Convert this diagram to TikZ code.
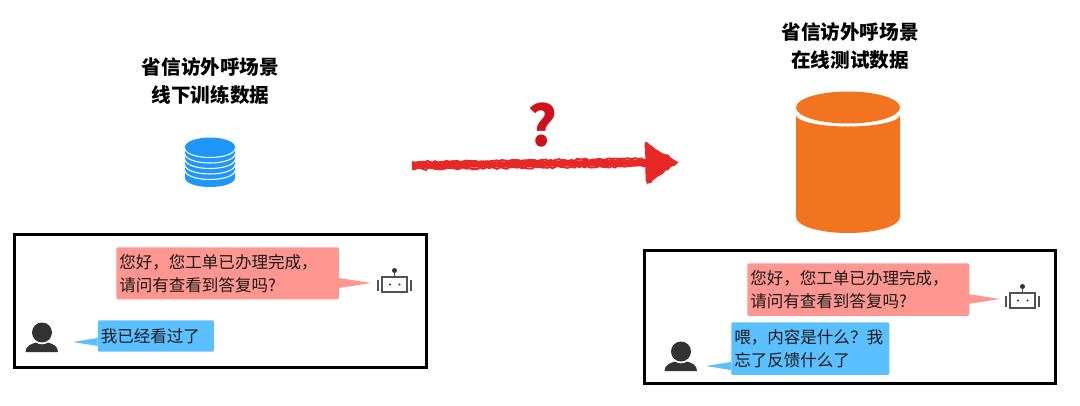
\documentclass[tikz,border=0pt]{standalone}
\usepackage{fontspec}
\setmainfont{Noto Sans CJK SC}
\usetikzlibrary{arrows.meta,decorations.pathmorphing}
\definecolor{boxred}{RGB}{255,150,144}
\definecolor{boxblue}{RGB}{90,192,255}
\definecolor{stackblue}{RGB}{30,150,250}
\definecolor{drumorange}{RGB}{242,116,32}
\definecolor{arrowred}{RGB}{232,40,38}
\definecolor{markred}{RGB}{205,18,30}
\definecolor{inkgray}{RGB}{51,51,51}
\tikzset{
  titletext/.style={inner sep=0pt,align=center,text=black,font=\fontsize{14.7}{21}\selectfont\bfseries},
  redbubble/.style={fill=boxred,rounded corners=1pt,anchor=north west,inner xsep=2.25pt,inner ysep=0pt,align=left,text=black!90,font=\fontsize{12.4}{17.25}\selectfont},
  bluebubble/.style={redbubble,fill=boxblue},
  chatframe/.style={draw=black,line width=2.25pt},
  robotline/.style={draw=inkgray!85,line width=0.9pt},
  chalk/.style={decorate,decoration={random steps,segment length=2pt,amplitude=0.8pt}},
}
\newcommand{\robotface}{
  \draw[robotline] (382,277) rectangle (407,292);
  \draw[robotline] (394.5,277) -- (394.5,271);
  \fill[inkgray] (394.5,270.5) circle (2.5);
  \fill[inkgray] (390,284.5) circle (1.2);
  \fill[inkgray] (399.5,284.5) circle (1.2);
  \draw[robotline] (378,280) -- (378,291);
  \draw[robotline] (411,280) -- (411,291);
}
\newcommand{\personbust}{
  \fill[inkgray] (42,332.5) circle (10);
  \fill[inkgray] (25.5,352) .. controls (25.5,346) and (31,344) .. (36,342.5)
    .. controls (39,345) and (45,345) .. (48,342.5)
    .. controls (53,344) and (58,346) .. (58,352) -- cycle;
}
\begin{document}
\begin{tikzpicture}[x=0.75pt,y=0.75pt,yscale=-1,xscale=1]
\useasboundingbox (0,0) rectangle (1080,405);

% Left side
\node (lefttitle) [titletext] at (210.5,81) {省信访外呼场景\\线下训练数据};
\fill[stackblue] (185,147) -- (185,178) arc (180:0:25 and 9) -- (235,147) -- cycle;
\foreach \y in {148.5,154,159.5,165,170.5} {
  \draw[white,line width=0.8pt] (185,\y) arc (180:0:25 and 9);
}
\fill[stackblue] (210,147) ellipse (25 and 9.5);

\draw[chatframe] (14,234) rectangle (426,367);
\node (leftrobotmsg) [redbubble,text width=162.5pt,minimum height=39pt] at (116,247) {您好，您工单已办理完成，\\请问有查看到答复吗?};
\fill[boxred] (339,278) -- (371,283) -- (339,288) -- cycle;
\robotface
\node (leftusermsg) [bluebubble,text width=82.5pt,minimum height=23.5pt] at (97.5,320) {我已经看过了};
\fill[boxblue] (97.5,338) -- (73,342) -- (97.5,346) -- cycle;
\personbust

% Arrow
\coordinate (arrowstart) at (412,165.5);
\coordinate (arrowend) at (676,162);
\draw[arrowred,line width=4.5pt,-{Triangle[length=23pt,width=27pt]}] (arrowstart) -- (arrowend);
\draw[arrowred,line width=1.5pt,chalk] (412,162) -- (648,159);
\draw[arrowred,line width=1.5pt,chalk] (412,169) -- (648,166);
\fill[arrowred,chalk] (645,142) -- (679,162) -- (647,185) -- cycle;
\node (askmark) [inner sep=0pt,text=markred,font=\fontsize{42}{42}\selectfont\bfseries] at (542,125) {?};

% Right side
\node (righttitle) [titletext] at (850,46) {省信访外呼场景\\在线测试数据};
\fill[drumorange] (796,115) -- (796,217) arc (180:0:52 and 16) -- (900,115) arc (0:180:52 and 11.5) -- cycle;
\fill[drumorange] (848,107.5) ellipse (52 and 16);

\draw[chatframe] (644,250) rectangle (1055,383);
\node (rightrobotmsg) [redbubble,text width=162pt,minimum height=39.5pt] at (747,263) {您好，您工单已办理完成，\\请问有查看到答复吗?};
\fill[boxred] (968,294) -- (1000,299) -- (968,304) -- cycle;
\begin{scope}[shift={(628,16)}]
\robotface
\end{scope}
\node (rightusermsg) [bluebubble,text width=114pt,minimum height=39.5pt] at (731,322) {喂，内容是什么？我\\忘了反馈什么了};
\fill[boxblue] (731,362) -- (706,366) -- (731,370) -- cycle;
\begin{scope}[shift={(639,19)}]
\personbust
\end{scope}

\end{tikzpicture}
\end{document}
